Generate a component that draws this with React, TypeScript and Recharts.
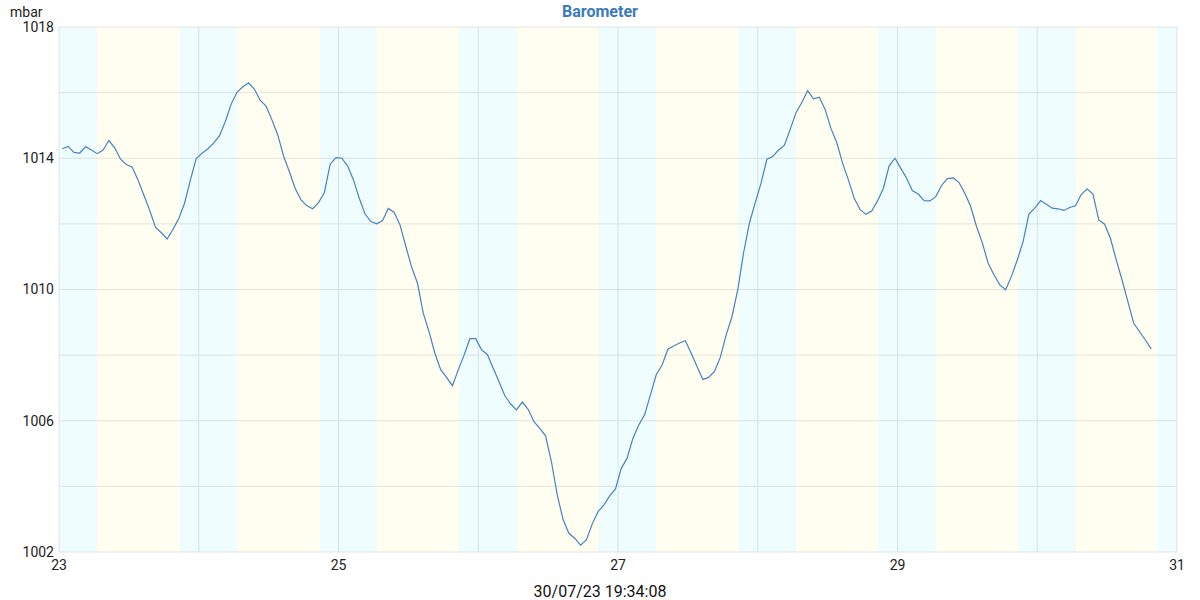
import { LineChart, Line, XAxis, YAxis, CartesianGrid, ReferenceArea } from 'recharts';

// hourly readings, first one at 23/07 00:34
const startDay = 23;
const startMinute = 34;
const pressure = [
  1014.29, 1014.36, 1014.18, 1014.16, 1014.35, 1014.25, 1014.14, 1014.25, 1014.54, 1014.32, 1013.97, 1013.81,
  1013.73, 1013.34, 1012.88, 1012.42, 1011.9, 1011.73, 1011.54, 1011.83, 1012.16, 1012.63, 1013.34, 1013.99,
  1014.15, 1014.29, 1014.46, 1014.69, 1015.12, 1015.65, 1016.01, 1016.18, 1016.3, 1016.1, 1015.76, 1015.59,
  1015.17, 1014.71, 1014.07, 1013.59, 1013.08, 1012.73, 1012.55, 1012.46, 1012.65, 1012.95, 1013.82, 1014.02,
  1014.0, 1013.77, 1013.34, 1012.78, 1012.3, 1012.07, 1012.0, 1012.1, 1012.47, 1012.35, 1011.97, 1011.31,
  1010.68, 1010.19, 1009.27, 1008.7, 1008.05, 1007.55, 1007.32, 1007.07, 1007.55, 1008.0, 1008.5, 1008.5,
  1008.16, 1008.02, 1007.6, 1007.19, 1006.76, 1006.51, 1006.33, 1006.57, 1006.35, 1005.97, 1005.77, 1005.54,
  1004.75, 1003.74, 1002.99, 1002.57, 1002.42, 1002.21, 1002.37, 1002.85, 1003.23, 1003.43, 1003.71, 1003.92,
  1004.55, 1004.86, 1005.47, 1005.87, 1006.18, 1006.79, 1007.4, 1007.7, 1008.18, 1008.28, 1008.37, 1008.44,
  1008.06, 1007.65, 1007.26, 1007.32, 1007.5, 1007.93, 1008.61, 1009.17, 1009.99, 1011.12, 1012.02, 1012.65,
  1013.24, 1013.97, 1014.05, 1014.25, 1014.39, 1014.88, 1015.39, 1015.7, 1016.06, 1015.81, 1015.86, 1015.49,
  1014.91, 1014.48, 1013.85, 1013.34, 1012.78, 1012.44, 1012.29, 1012.39, 1012.7, 1013.08, 1013.77, 1014.0,
  1013.69, 1013.39, 1013.01, 1012.91, 1012.71, 1012.7, 1012.83, 1013.17, 1013.38, 1013.4, 1013.26, 1012.93,
  1012.53, 1011.92, 1011.42, 1010.8, 1010.45, 1010.14, 1009.99, 1010.4, 1010.9, 1011.46, 1012.3, 1012.48,
  1012.71, 1012.6, 1012.48, 1012.46, 1012.41, 1012.5, 1012.55, 1012.9, 1013.06, 1012.91, 1012.12, 1011.99,
  1011.56, 1010.9, 1010.29, 1009.63, 1008.97, 1008.72, 1008.46, 1008.19,
];

// sunrise / sunset per day (hours)
const days = [23, 24, 25, 26, 27, 28, 29, 30];
const sunrise = [6.53, 6.58, 6.6, 6.65, 6.53, 6.58, 6.62, 6.65];
const sunset = [20.78, 20.83, 20.69, 20.57, 20.62, 20.64, 20.69, 20.57];

const xTicks = [23, 24, 25, 26, 27, 28, 29, 30, 31];
const xLabels = [23, 25, 27, 29, 31];
const yTicks = [1002, 1004, 1006, 1008, 1010, 1012, 1014, 1016, 1018];
const yLabels = [1002, 1006, 1010, 1014, 1018];

const title = 'Barometer';
const unit = 'mbar';
const stamp = '30/07/23 19:34:08';

const data = pressure.map((p, i) => ({
  t: startDay + (i + startMinute / 60) / 24,
  p,
}));

const NIGHT = 'rgb(41,226,255)';
const DAY = 'rgb(255,241,41)';

export default function App() {
  const bands: { x1: number; x2: number; fill: string }[] = [];
  days.forEach((d, i) => {
    const prevSet = i === 0 ? d : days[i - 1] + sunset[i - 1] / 24;
    bands.push({ x1: prevSet, x2: d + sunrise[i] / 24, fill: NIGHT });
    bands.push({ x1: d + sunrise[i] / 24, x2: d + sunset[i] / 24, fill: DAY });
  });
  const last = days.length - 1;
  bands.push({ x1: days[last] + sunset[last] / 24, x2: 31, fill: NIGHT });

  return (
    <div style={{ position: 'relative', width: 1200, height: 600, fontFamily: 'Roboto, sans-serif', background: '#fff' }}>
      <style>{'body{margin:0}'}</style>
      <div style={{ position: 'absolute', left: 10, top: 4, fontSize: 14, lineHeight: '16px', color: '#222' }}>{unit}</div>
      <div
        style={{
          position: 'absolute', left: 0, width: 1200, top: 2, textAlign: 'center',
          fontSize: 16, lineHeight: '20px', fontWeight: 'bold', color: '#3b7bbd',
        }}
      >
        {title}
      </div>
      <LineChart width={1200} height={600} data={data} margin={{ top: 27, right: 23, left: 0, bottom: 0 }}>
        {bands.map((b, i) => (
          <ReferenceArea key={i} x1={b.x1} x2={b.x2} y1={1002} y2={1018} fill={b.fill} fillOpacity={0.07} stroke="none" />
        ))}
        <CartesianGrid stroke="#e4e4e4" strokeWidth={1} />
        <XAxis
          dataKey="t"
          type="number"
          domain={[23, 31]}
          ticks={xTicks}
          interval={0}
          height={48}
          axisLine={false}
          tickLine={false}
          tick={{ fill: '#222', fontSize: 14 }}
          tickFormatter={(v: number) => (xLabels.includes(v) ? String(v) : '')}
        />
        <YAxis
          type="number"
          domain={[1002, 1018]}
          ticks={yTicks}
          interval={0}
          width={59}
          axisLine={false}
          tickLine={false}
          tickSize={5}
          tickMargin={0}
          tick={{ fill: '#222', fontSize: 14 }}
          tickFormatter={(v: number) => (yLabels.includes(v) ? String(v) : '')}
        />
        <Line type="linear" dataKey="p" stroke="#4682c0" strokeWidth={1.2} dot={false} isAnimationActive={false} />
      </LineChart>
      <div
        style={{
          position: 'absolute', left: 0, width: 1200, top: 582, textAlign: 'center',
          fontSize: 16, lineHeight: '20px', color: '#111',
        }}
      >
        {stamp}
      </div>
    </div>
  );
}
